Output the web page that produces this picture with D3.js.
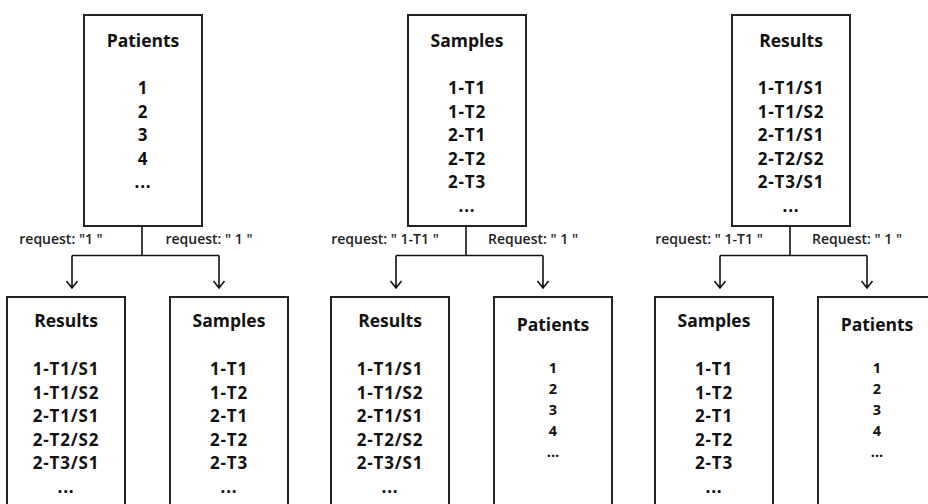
<!DOCTYPE html>
<html>
<head>
<meta charset="utf-8">
<script src="https://cdn.jsdelivr.net/npm/d3@7"></script>
<style>
  body { margin: 0; background: #fff; }
  text { font-family: "Open Sans", "Noto Sans", sans-serif; fill: #111; }
</style>
</head>
<body>
<div id="diagram"></div>
<script>
// one panel per table that gets queried
var sourceTitles = ["Patients", "Samples", "Results"];
var targetTitles = [["Results", "Samples"], ["Results", "Patients"], ["Samples", "Patients"]];
var requestLabels = [
  ['request: "1 "', 'request: " 1 "'],
  ['request: " 1-T1 "', 'Request: " 1 "'],
  ['request: " 1-T1 "', 'Request: " 1 "']
];

var patientIds = ["1", "2", "3", "4", "..."];
var sampleIds = ["1-T1", "1-T2", "2-T1", "2-T2", "2-T3", "..."];
var resultIds = ["1-T1/S1", "1-T1/S2", "2-T1/S1", "2-T2/S2", "2-T3/S1", "..."];

var listFor = { Patients: patientIds, Samples: sampleIds, Results: resultIds };

var width = 928,
    height = 504;
var boxWidth = 118;

var svg = d3.select("#diagram")
  .append("svg")
    .attr("width", width)
    .attr("height", height);

var panelX = d3.scalePoint()
  .domain(d3.range(sourceTitles.length))
  .range([142, 790]);

// offsets of the two branches from the panel stem
var arrowOffset = d3.scaleOrdinal().domain([0, 1]).range([-70, 77]);
var boxOffset = d3.scaleOrdinal().domain([0, 1]).range([-76, 87]);
var labelOffset = d3.scaleOrdinal().domain([0, 1]).range([-81, 67]);

var y = {
  sourceTop: 15, sourceBottom: 226,
  branch: 255.5, arrowTip: 288,
  label: 244,
  targetTop: 297, targetBottom: 512
};

var panels = svg.selectAll("g.panel")
  .data(sourceTitles)
  .enter()
    .append("g")
      .attr("class", "panel");

panels.each(function(title, i) {
  var g = d3.select(this);
  var cx = panelX(i);

  drawBox(g, cx + 1, y.sourceTop, y.sourceBottom, title, true);

  // stem and branch
  g.append("path")
    .attr("d", "M" + cx + "," + y.sourceBottom + "V" + y.branch +
               "M" + (cx + arrowOffset(0)) + "," + y.branch + "H" + (cx + arrowOffset(1)))
    .attr("fill", "none")
    .attr("stroke", "#111")
    .attr("stroke-width", 1.6);

  [0, 1].forEach(function(k) {
    var ax = cx + arrowOffset(k);
    g.append("path")
      .attr("d", "M" + ax + "," + y.branch + "V" + y.arrowTip +
                 "M" + (ax - 5.5) + "," + (y.arrowTip - 7) + "L" + ax + "," + y.arrowTip +
                 "L" + (ax + 5.5) + "," + (y.arrowTip - 7))
      .attr("fill", "none")
      .attr("stroke", "#111")
      .attr("stroke-width", 1.6);

    g.append("text")
      .attr("x", cx + labelOffset(k))
      .attr("y", y.label)
      .attr("text-anchor", "middle")
      .attr("font-size", "14px")
      .attr("font-weight", 600)
      .style("fill", "#222")
      .text(requestLabels[i][k]);

    drawBox(g, cx + boxOffset(k), y.targetTop, y.targetBottom, targetTitles[i][k], false);
  });
});

function drawBox(g, cx, top, bottom, title, isSource) {
  g.append("rect")
    .attr("x", cx - boxWidth / 2)
    .attr("y", top)
    .attr("width", boxWidth)
    .attr("height", bottom - top)
    .attr("fill", "#fff")
    .attr("stroke", "#222")
    .attr("stroke-width", 2);

  var items = listFor[title];
  // the patient list in the lower boxes is set smaller
  var small = !isSource && title === "Patients";
  var titleY = isSource ? top + 32 : top + (small ? 34 : 30);
  var firstY = isSource ? top + 79 : top + (small ? 76 : 78);
  var step = small ? 21 : 23.6;

  g.append("text")
    .attr("x", cx)
    .attr("y", titleY)
    .attr("text-anchor", "middle")
    .attr("font-size", "17.5px")
    .attr("font-weight", 700)
    .text(title);

  g.selectAll(null)
    .data(items)
    .enter()
      .append("text")
        .attr("x", cx)
        .attr("y", function(d, j) { return firstY + j * step; })
        .attr("text-anchor", "middle")
        .attr("font-size", small ? "14.5px" : "17px")
        .attr("font-weight", 700)
        .attr("letter-spacing", small ? 0 : 0.8)
        .text(function(d) { return d; });
}
</script>
</body>
</html>
